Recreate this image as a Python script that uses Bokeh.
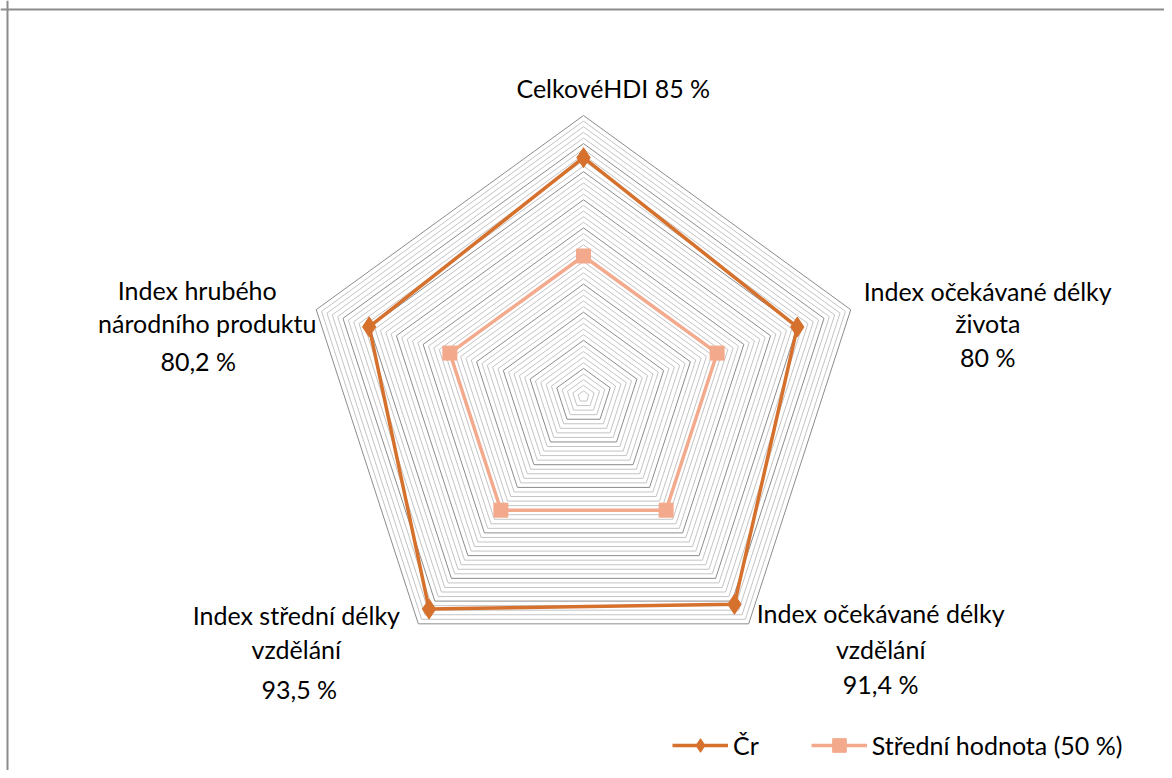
import numpy as np
from bokeh.plotting import figure
from bokeh.models import Range1d, ColumnDataSource, Legend, LegendItem, Span
from bokeh.core.properties import value
from bokeh.embed import file_html
from bokeh.resources import INLINE

# ---------------- data ----------------
categories = [
    "CelkovéHDI",
    "Index očekávané délky života",
    "Index očekávané délky vzdělání",
    "Index střední délky vzdělání",
    "Index hrubého národního produktu",
]
cr_values = [0.85, 0.80, 0.914, 0.935, 0.802]
mean_values = [0.50, 0.50, 0.50, 0.50, 0.50]
series_names = ["Čr", "Střední hodnota (50 %)"]
label_lines = [
    ["CelkovéHDI  85 %"],
    ["Index očekávané délky", "života", "80 %"],
    ["Index očekávané délky", "vzdělání", "91,4 %"],
    ["Index střední délky", "vzdělání", "93,5 %"],
    ["Index hrubého", "národního produktu", "80,2 %"],
]
axis_max = 1.0
minor_unit = 0.02
major_unit = 0.1

# ---------------- layout ----------------
W, H = 1164, 770
R = 281.0          # pixel radius of axis_max
CX, CY = 583.0, 396.0  # centre in figure pixels (from top-left)
FONT = "Lato"
FS = "25px"
C_CR = "#D6712D"
C_MEAN = "#F3A98B"
C_MINOR = "#C4C4C4"
C_MAJOR = "#8C8C8C"

n = len(categories)
theta = np.pi / 2 - 2 * np.pi * np.arange(n) / n

p = figure(width=W, height=H, output_backend="svg", toolbar_location=None,
           x_range=Range1d(-CX / R, (W - CX) / R),
           y_range=Range1d(-(H - CY) / R, CY / R),
           x_axis_type=None, y_axis_type=None, min_border=0)
p.grid.visible = False
p.outline_line_color = None
p.background_fill_color = "white"
p.border_fill_color = "white"

# grid rings
levels = np.round(np.arange(minor_unit, axis_max + 1e-9, minor_unit), 4)
minor_xs, minor_ys, major_xs, major_ys = [], [], [], []
for lv in levels:
    xs = list(lv * np.cos(theta)) + [lv * np.cos(theta[0])]
    ys = list(lv * np.sin(theta)) + [lv * np.sin(theta[0])]
    if abs((lv / major_unit) - round(lv / major_unit)) < 1e-6:
        major_xs.append(xs); major_ys.append(ys)
    else:
        minor_xs.append(xs); minor_ys.append(ys)
p.multi_line(minor_xs, minor_ys, line_color=C_MINOR, line_width=1)
p.multi_line(major_xs, major_ys, line_color=C_MAJOR, line_width=1)

def closed(vals):
    v = np.array(vals)
    x = v * np.cos(theta)
    y = v * np.sin(theta)
    return list(x) + [x[0]], list(y) + [y[0]], list(x), list(y)

mx, my, mpx, mpy = closed(mean_values)
l_mean = p.line(mx, my, line_color=C_MEAN, line_width=3.5)
s_mean = p.scatter(mpx, mpy, marker="square", size=14, fill_color=C_MEAN, line_color=C_MEAN)

cx_, cy_, cpx, cpy = closed(cr_values)
l_cr = p.line(cx_, cy_, line_color=C_CR, line_width=3.5)
s_cr = p.scatter(cpx, cpy, marker="diamond", size=20, fill_color=C_CR, line_color=C_CR)

# category labels (pixel offsets from each axis end)
offsets = [
    [(33, -28)],
    [(137, -19), (137, 13), (137, 47)],
    [(132, -11), (132, 25), (132, 60)],
    [(-122, -9), (-122, 25), (-119, 65)],
    [(-119, -20), (-109, 13), (-118, 51)],
]
tx, ty, tt, tox, toy = [], [], [], [], []
for k in range(n):
    for line, (dx, dy) in zip(label_lines[k], offsets[k]):
        tx.append(axis_max * np.cos(theta[k]))
        ty.append(axis_max * np.sin(theta[k]))
        tt.append(line)
        tox.append(dx)
        toy.append(dy)
src = ColumnDataSource(dict(x=tx, y=ty, text=tt, xo=tox, yo=toy))
p.text(x="x", y="y", text="text", x_offset="xo", y_offset="yo", source=src,
       text_font=value(FONT), text_font_size=FS, text_color="#000000",
       text_align="center", text_baseline="middle")

# chart border (left and top visible)
p.add_layout(Span(location=-CX / R + 7 / R, dimension="height", line_color="#8C8C8C", line_width=2))
p.add_layout(Span(location=CY / R - 9 / R, dimension="width", line_color="#8C8C8C", line_width=2))

legend = Legend(items=[LegendItem(label=series_names[0], renderers=[l_cr, s_cr]),
                       LegendItem(label=series_names[1], renderers=[l_mean, s_mean])],
                orientation="horizontal", location=(672, 8),
                glyph_width=56, glyph_height=34, label_standoff=5, spacing=52,
                padding=0, margin=0, border_line_color=None,
                background_fill_alpha=0,
                label_text_font=FONT, label_text_font_size=FS, label_text_color="#000000")
p.add_layout(legend, "center")

open("out.html", "w").write(file_html(p, INLINE))
